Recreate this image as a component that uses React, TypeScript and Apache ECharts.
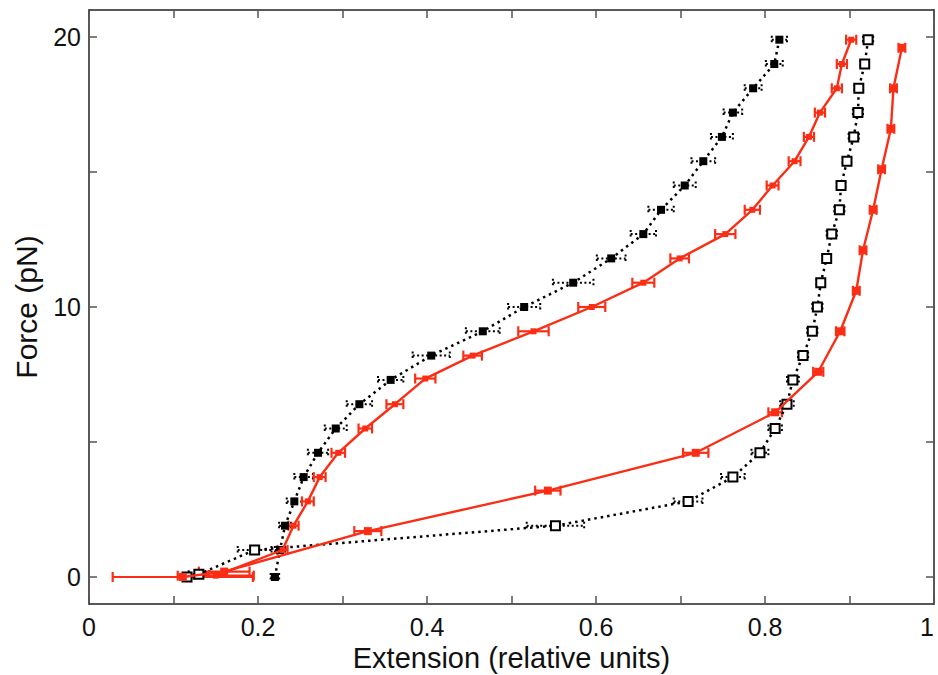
import React, { useEffect, useRef } from "react";
import * as echarts from "echarts";

// Black, stretching (filled squares, dotted)
const blackStretchX = [0.220, 0.226, 0.232, 0.243, 0.254, 0.271, 0.292, 0.320, 0.357, 0.405, 0.466, 0.515, 0.573, 0.618, 0.656, 0.677, 0.705, 0.727, 0.749, 0.762, 0.786, 0.811, 0.817];
const blackStretchY = [0.0, 1.0, 1.9, 2.8, 3.7, 4.6, 5.5, 6.4, 7.3, 8.2, 9.1, 10.0, 10.9, 11.8, 12.7, 13.6, 14.5, 15.4, 16.3, 17.2, 18.1, 19.0, 19.9];
const blackStretchErr = [0.005, 0.006, 0.007, 0.009, 0.011, 0.012, 0.013, 0.015, 0.015, 0.022, 0.02, 0.019, 0.024, 0.017, 0.015, 0.015, 0.013, 0.014, 0.013, 0.011, 0.01, 0.01, 0.009];

// Red, stretching (solid)
const redStretchX = [0.150, 0.229, 0.242, 0.259, 0.273, 0.295, 0.327, 0.362, 0.398, 0.454, 0.526, 0.595, 0.656, 0.699, 0.753, 0.785, 0.809, 0.835, 0.852, 0.865, 0.885, 0.891, 0.902];
const redStretchY = [0.05, 1.0, 1.9, 2.8, 3.7, 4.6, 5.5, 6.4, 7.35, 8.2, 9.1, 10.0, 10.9, 11.8, 12.7, 13.6, 14.5, 15.4, 16.3, 17.2, 18.1, 19.0, 19.9];
const redStretchErr = [0.045, 0.006, 0.006, 0.007, 0.007, 0.008, 0.008, 0.01, 0.012, 0.011, 0.018, 0.016, 0.013, 0.011, 0.012, 0.009, 0.007, 0.007, 0.006, 0.006, 0.006, 0.006, 0.006];

// Black, relaxing (open squares, dotted)
const blackRelaxX = [0.922, 0.918, 0.911, 0.910, 0.905, 0.897, 0.890, 0.888, 0.879, 0.873, 0.866, 0.862, 0.856, 0.845, 0.833, 0.826, 0.812, 0.794, 0.762, 0.709, 0.552, 0.196, 0.130, 0.116];
const blackRelaxY = [19.9, 19.0, 18.1, 17.2, 16.3, 15.4, 14.5, 13.6, 12.7, 11.8, 10.9, 10.0, 9.1, 8.2, 7.3, 6.4, 5.5, 4.6, 3.7, 2.8, 1.9, 1.0, 0.1, 0.0];
const blackRelaxErr = [0.006, 0.005, 0.005, 0.006, 0.006, 0.005, 0.005, 0.006, 0.006, 0.005, 0.005, 0.006, 0.006, 0.006, 0.007, 0.008, 0.008, 0.01, 0.014, 0.017, 0.034, 0.02, 0.012, 0.008];

// Red, relaxing (solid)
const redRelaxX = [0.962, 0.952, 0.949, 0.938, 0.928, 0.916, 0.908, 0.889, 0.863, 0.812, 0.718, 0.543, 0.330, 0.160, 0.111];
const redRelaxY = [19.6, 18.1, 16.6, 15.1, 13.6, 12.1, 10.6, 9.1, 7.6, 6.1, 4.6, 3.2, 1.7, 0.2, 0.0];
const redRelaxErr = [0.004, 0.004, 0.004, 0.004, 0.004, 0.004, 0.004, 0.005, 0.006, 0.008, 0.015, 0.015, 0.016, 0.03, 0.083];

// Axis ticks and labels
const xTicks = [0, 0.1, 0.2, 0.3, 0.4, 0.5, 0.6, 0.7, 0.8, 0.9, 1];
const xLabels = [0, 0.2, 0.4, 0.6, 0.8, 1];
const yTicks = [0, 5, 10, 15, 20];
const yLabels = [0, 10, 20];

const RED = "#fb2d14";
const BLACK = "#000000";
const FONT = "Liberation Sans, Arial, sans-serif";

const zip = (xs: number[], ys: number[]) => xs.map((x, i) => [x, ys[i]]);
const zip3 = (xs: number[], ys: number[], es: number[]) => xs.map((x, i) => [x, ys[i], es[i]]);

function errorSeries(data: number[][], color: string, dashed: boolean, width: number, cap: number) {
  return {
    type: "custom",
    xAxisIndex: 0,
    yAxisIndex: 0,
    encode: { x: 0, y: 1 },
    data,
    z: 3,
    renderItem: (params: any, api: any) => {
      const x = api.value(0);
      const y = api.value(1);
      const e = api.value(2);
      const p1 = api.coord([x - e, y]);
      const p2 = api.coord([x + e, y]);
      const style: any = { stroke: color, lineWidth: width, fill: "none" };
      if (dashed) style.lineDash = [2, 2.5];
      return {
        type: "group",
        children: [
          { type: "line", shape: { x1: p1[0], y1: p1[1], x2: p2[0], y2: p2[1] }, style },
          { type: "line", shape: { x1: p1[0], y1: p1[1] - cap, x2: p1[0], y2: p1[1] + cap }, style },
          { type: "line", shape: { x1: p2[0], y1: p2[1] - cap, x2: p2[0], y2: p2[1] + cap }, style },
        ],
      };
    },
  };
}

export default function App() {
  const ref = useRef<HTMLDivElement>(null);
  useEffect(() => {
    if (!ref.current) return;
    const chart = echarts.init(ref.current, undefined, { renderer: "svg" });
    const axisLine = { show: true, onZero: false, lineStyle: { color: "#222", width: 1.5 } };
    const tickStyle = { color: "#555", width: 1.5 };
    chart.setOption({
      animation: false,
      backgroundColor: "#ffffff",
      grid: { left: 89, right: 4, top: 10, bottom: 71, containLabel: false, outerBoundsMode: "none" },
      xAxis: [
        {
          type: "value",
          min: 0,
          max: 1,
          position: "bottom",
          name: "Extension (relative units)",
          nameLocation: "middle",
          nameGap: 33,
          nameTextStyle: { fontSize: 29, color: "#111", fontFamily: FONT },
          axisLine,
          axisTick: { show: true, inside: true, length: 8, customValues: xTicks, lineStyle: tickStyle },
          axisLabel: {
            show: true,
            customValues: xLabels,
            fontSize: 25,
            color: "#111",
            fontFamily: FONT,
            margin: 10,
            alignMaxLabel: "right",
            formatter: (v: number) => String(v),
          },
          splitLine: { show: false },
        },
        {
          type: "value",
          min: 0,
          max: 1,
          position: "top",
          axisLine,
          axisTick: { show: true, inside: true, length: 8, customValues: xTicks, lineStyle: tickStyle },
          axisLabel: { show: false },
          splitLine: { show: false },
        },
      ],
      yAxis: [
        {
          type: "value",
          min: -1,
          max: 21,
          position: "left",
          name: "Force (pN)",
          nameLocation: "middle",
          nameGap: 48,
          nameTextStyle: { fontSize: 30, color: "#111", fontFamily: FONT },
          axisLine,
          axisTick: { show: true, inside: true, length: 8, customValues: yTicks, lineStyle: tickStyle },
          axisLabel: { show: true, customValues: yLabels, fontSize: 25, color: "#111", fontFamily: FONT, margin: 8 },
          splitLine: { show: false },
        },
        {
          type: "value",
          min: -1,
          max: 21,
          position: "right",
          axisLine,
          axisTick: { show: true, inside: true, length: 8, customValues: yTicks, lineStyle: tickStyle },
          axisLabel: { show: false },
          splitLine: { show: false },
        },
      ],
      series: [
        errorSeries(zip3(blackStretchX, blackStretchY, blackStretchErr), BLACK, true, 2, 4),
        errorSeries(zip3(blackRelaxX, blackRelaxY, blackRelaxErr), BLACK, true, 2, 4),
        {
          type: "line",
          data: zip(blackStretchX, blackStretchY),
          symbol: "rect",
          symbolSize: 8,
          itemStyle: { color: BLACK },
          lineStyle: { color: BLACK, width: 2.5, type: [2.5, 4] },
          z: 4,
        },
        {
          type: "line",
          data: zip(blackRelaxX, blackRelaxY),
          symbol: "emptyRect",
          symbolSize: 9,
          itemStyle: { color: BLACK, borderColor: BLACK, borderWidth: 1.5 },
          lineStyle: { color: BLACK, width: 2.5, type: [2.5, 4] },
          z: 4,
        },
        errorSeries(zip3(redStretchX, redStretchY, redStretchErr), RED, false, 2.2, 5),
        errorSeries(zip3(redRelaxX, redRelaxY, redRelaxErr), RED, false, 2.2, 5),
        {
          type: "line",
          data: zip(redStretchX, redStretchY),
          symbol: "rect",
          symbolSize: 6,
          itemStyle: { color: RED },
          lineStyle: { color: RED, width: 2.4 },
          z: 5,
        },
        {
          type: "line",
          data: zip(redRelaxX, redRelaxY),
          symbol: "rect",
          symbolSize: 8,
          itemStyle: { color: RED },
          lineStyle: { color: RED, width: 2.4 },
          z: 5,
        },
      ],
    });
    return () => chart.dispose();
  }, []);
  return (
    <div
      ref={ref}
      style={{ position: "absolute", left: 0, top: 0, width: 938, height: 675, background: "#fff" }}
    />
  );
}
